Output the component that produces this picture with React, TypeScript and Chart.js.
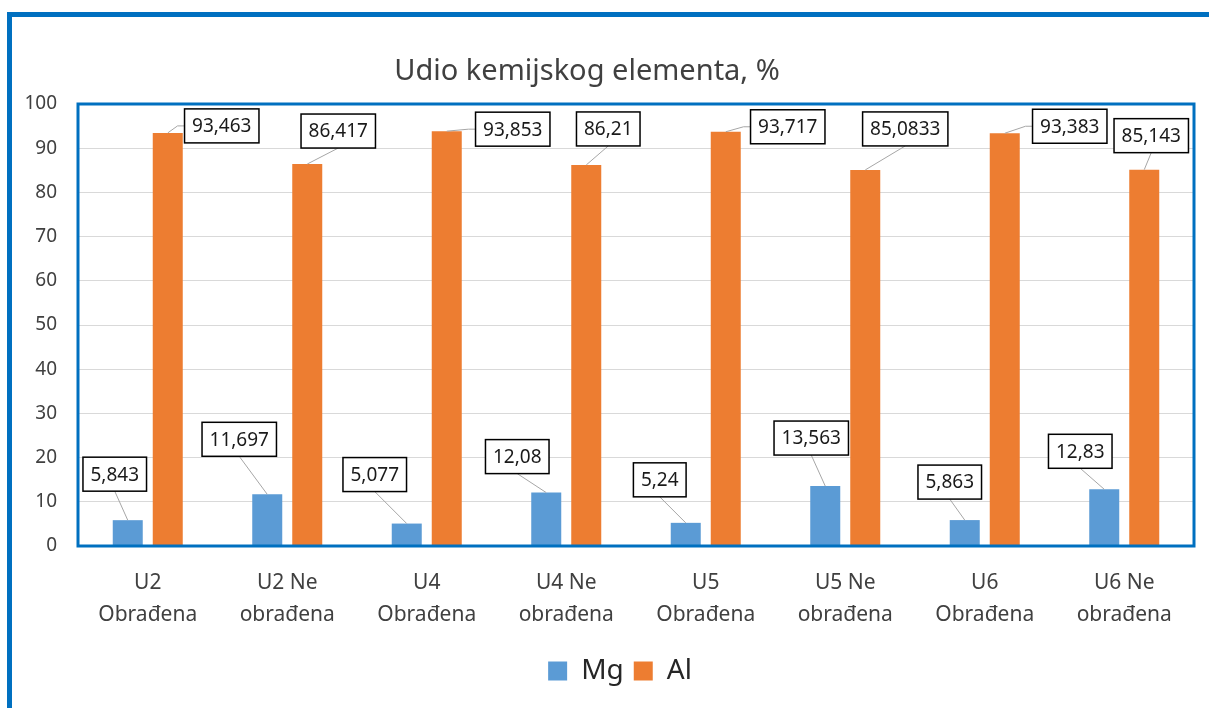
import React, { useEffect, useRef } from "react";
import { Chart, registerables } from "chart.js";

Chart.register(...registerables);

// ---- data ----
const categories: string[][] = [
  ["U2", "Obrađena"],
  ["U2 Ne", "obrađena"],
  ["U4", "Obrađena"],
  ["U4 Ne", "obrađena"],
  ["U5", "Obrađena"],
  ["U5 Ne", "obrađena"],
  ["U6", "Obrađena"],
  ["U6 Ne", "obrađena"],
];
const seriesNames = ["Mg", "Al"];
const mgValues = [5.843, 11.697, 5.077, 12.08, 5.24, 13.563, 5.863, 12.83];
const alValues = [93.463, 86.417, 93.853, 86.21, 93.717, 85.0833, 93.383, 85.143];
const yTickMin = 0;
const yTickMax = 100;
const yTickStep = 10;
const chartTitle = "Udio kemijskog elementa, %";

// ---- label placement (offset of label box centre from bar top, px) ----
const mgLabelOffsets = [
  [-13, -46], [-28, -55], [-32, -49], [-29, -36],
  [-26, -43], [-14, -48], [-15, -38], [-24, -38],
];
const alLabelOffsets = [
  [54, -7], [31, -33], [66, -2], [22, -36],
  [62, -5], [40, -41], [65, -7], [7, -34],
];

const FONT = '"Noto Sans", "Open Sans", sans-serif';
const BLUE = "#0070C0";

const borderPlugin = {
  id: "plotBorder",
  afterLayout(chart: any) {
    const lg = chart.legend;
    if (lg) {
      lg.left += 17;
      lg.right += 17;
    }
  },
  afterDatasetsDraw(chart: any) {
    const { ctx, chartArea } = chart;
    ctx.save();
    ctx.strokeStyle = BLUE;
    ctx.lineWidth = 3;
    ctx.strokeRect(chartArea.left, chartArea.top, chartArea.right - chartArea.left, chartArea.bottom - chartArea.top);
    ctx.restore();
  },
};

const labelPlugin = {
  id: "boxedLabels",
  afterDatasetsDraw(chart: any) {
    const ctx = chart.ctx;
    ctx.save();
    ctx.font = `19px ${FONT}`;
    chart.data.datasets.forEach((ds: any, di: number) => {
      const meta = chart.getDatasetMeta(di);
      const offs = di === 0 ? mgLabelOffsets : alLabelOffsets;
      meta.data.forEach((el: any, i: number) => {
        const v = ds.data[i];
        const text = String(v).replace(".", ",");
        const [dx, dy] = offs[i];
        const cx = el.x + dx;
        const cy = el.y + dy;
        const tw = ctx.measureText(text).width;
        const w = tw + 15;
        const h = 34;
        const left = cx - w / 2;
        const top = cy - h / 2;
        const bottom = cy + h / 2;
        ctx.strokeStyle = "#A6A6A6";
        ctx.lineWidth = 1;
        ctx.beginPath();
        ctx.moveTo(el.x, el.y);
        if (bottom < el.y - 10) {
          ctx.lineTo(cx, bottom);
        } else {
          ctx.lineTo(left - 7, cy);
          ctx.lineTo(left, cy);
        }
        ctx.stroke();
        ctx.fillStyle = "#ffffff";
        ctx.fillRect(left, top, w, h);
        ctx.strokeStyle = "#000000";
        ctx.lineWidth = 1.5;
        ctx.strokeRect(left, top, w, h);
        ctx.fillStyle = "#1a1a1a";
        ctx.textAlign = "center";
        ctx.textBaseline = "middle";
        ctx.fillText(text, cx, cy + 1);
      });
    });
    ctx.restore();
  },
};

const titlePlugin = {
  id: "customTitle",
  afterDraw(chart: any) {
    const ctx = chart.ctx;
    ctx.save();
    ctx.font = `29px ${FONT}`;
    ctx.fillStyle = "#404040";
    ctx.textAlign = "center";
    ctx.textBaseline = "middle";
    ctx.fillText(chartTitle, 575, 55);
    ctx.restore();
  },
};

export default function App() {
  const ref = useRef<HTMLCanvasElement>(null);
  useEffect(() => {
    if (!ref.current) return;
    const chart = new Chart(ref.current, {
      type: "bar",
      data: {
        labels: categories,
        datasets: [
          {
            label: seriesNames[0],
            data: mgValues,
            backgroundColor: "#5B9BD5",
            categoryPercentage: 0.5735,
            barPercentage: 0.75,
          },
          {
            label: seriesNames[1],
            data: alValues,
            backgroundColor: "#ED7D31",
            categoryPercentage: 0.5735,
            barPercentage: 0.75,
          },
        ],
      },
      options: {
        animation: false,
        responsive: false,
        layout: { padding: { top: 87, right: 15, bottom: 13, left: 0 } },
        plugins: {
          title: { display: false },
          tooltip: { enabled: false },
          legend: {
            position: "bottom",
            labels: {
              boxWidth: 19,
              boxHeight: 19,
              padding: 10,
              color: "#262626",
              font: { family: FONT, size: 28 },
            },
          },
        },
        scales: {
          x: {
            grid: { display: false, drawTicks: false },
            border: { display: false },
            ticks: {
              font: { family: FONT, size: 21, lineHeight: 1.52 },
              color: "#404040",
              padding: 21,
              maxRotation: 0,
              autoSkip: false,
            },
            afterFit: (s: any) => {
              s.height = 101;
            },
          },
          y: {
            min: yTickMin,
            max: yTickMax,
            ticks: {
              stepSize: yTickStep,
              font: { family: FONT, size: 19 },
              color: "#404040",
              padding: 21,
            },
            grid: { color: "#D9D9D9", lineWidth: 1, drawTicks: false },
            border: { display: false },
            afterFit: (s: any) => {
              s.width = 66;
            },
          },
        },
      },
      plugins: [borderPlugin, labelPlugin, titlePlugin],
    } as any);
    return () => chart.destroy();
  }, []);

  return (
    <div
      style={{
        position: "fixed",
        left: 7,
        top: 12,
        width: 1202,
        height: 696,
        borderTop: `5px solid ${BLUE}`,
        borderLeft: `5px solid ${BLUE}`,
        boxSizing: "border-box",
        background: "#ffffff",
      }}
    >
      <canvas ref={ref} width={1197} height={691} style={{ display: "block" }} />
    </div>
  );
}
